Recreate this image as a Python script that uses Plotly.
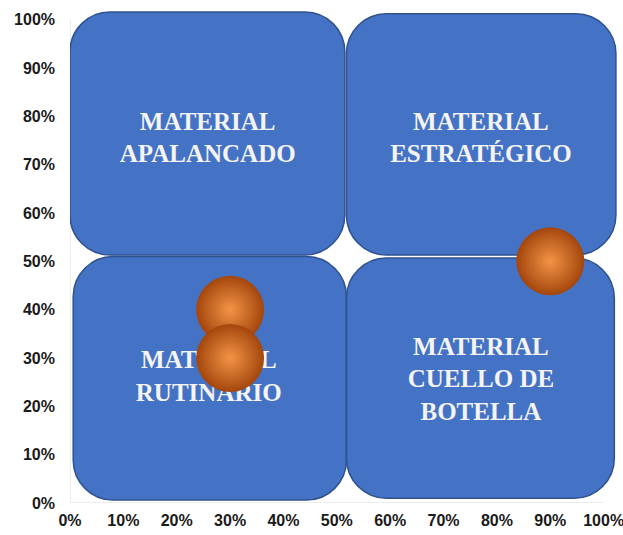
import plotly.graph_objects as go

# Quadrant boxes (data coordinates, fraction of axis)
quad_labels = ["MATERIAL<br>APALANCADO", "MATERIAL<br>ESTRATÉGICO",
               "MATERIAL<br>RUTINARIO", "MATERIAL<br>CUELLO DE<br>BOTELLA"]
quad_x0 = [0.000, 0.518, 0.006, 0.518]
quad_x1 = [0.515, 1.023, 0.518, 1.020]
quad_y0 = [0.513, 0.513, 0.006, 0.010]
quad_y1 = [1.016, 1.012, 0.510, 0.507]
label_x = [0.258, 0.770, 0.260, 0.770]
label_y = [0.752, 0.752, 0.258, 0.252]

# Points (spheres)
pt_x = [0.30, 0.30, 0.90]
pt_y = [0.40, 0.30, 0.50]

x_ticks = [i / 10 for i in range(11)]
x_tick_text = [f"{i*10}%" for i in range(11)]
y_ticks = [i / 10 for i in range(11)]
y_tick_text = [f"{i*10}%" for i in range(11)]

W, H = 623, 535
ML, MR, MT, MB = 70, 6, 10, 32
XR = [0, 1.025]
YR = [0, 1.02]
px_x = (W - ML - MR) / (XR[1] - XR[0])
px_y = (H - MT - MB) / (YR[1] - YR[0])
corner_px = 40
rx = corner_px / px_x
ry = corner_px / px_y


def rounded_rect(x0, x1, y0, y1):
    k = 0.5523
    return (f"M {x0+rx},{y1} L {x1-rx},{y1} "
            f"C {x1-rx+k*rx},{y1} {x1},{y1-ry+k*ry} {x1},{y1-ry} "
            f"L {x1},{y0+ry} "
            f"C {x1},{y0+ry-k*ry} {x1-rx+k*rx},{y0} {x1-rx},{y0} "
            f"L {x0+rx},{y0} "
            f"C {x0+rx-k*rx},{y0} {x0},{y0+ry-k*ry} {x0},{y0+ry} "
            f"L {x0},{y1-ry} "
            f"C {x0},{y1-ry+k*ry} {x0+rx-k*rx},{y1} {x0+rx},{y1} Z")


shapes = []
# axis lines
shapes.append(dict(type="line", xref="x", yref="y", x0=0, x1=1, y0=0, y1=0,
                   line=dict(color="#D9D9D9", width=1), layer="below"))
shapes.append(dict(type="line", xref="x", yref="y", x0=0, x1=0, y0=0, y1=1,
                   line=dict(color="#D9D9D9", width=1), layer="below"))
for x0, x1, y0, y1 in zip(quad_x0, quad_x1, quad_y0, quad_y1):
    shapes.append(dict(type="path", xref="x", yref="y", path=rounded_rect(x0, x1, y0, y1),
                       fillcolor="#4472C4", line=dict(color="#2F528F", width=1.5),
                       layer="below"))

fig = go.Figure()
fig.add_trace(go.Scatter(
    x=label_x, y=label_y, mode="text", text=quad_labels,
    textfont=dict(family="Liberation Serif", size=25, color="#F4F4F4", weight="bold"),
    hoverinfo="skip", showlegend=False, cliponaxis=False))
fig.add_trace(go.Scatter(
    x=pt_x, y=pt_y, mode="markers",
    marker=dict(size=68, color="#A4460C", line=dict(width=0),
                gradient=dict(type="radial", color="#F29446")),
    showlegend=False, cliponaxis=False))

tick_font = dict(family="Liberation Sans", size=16, color="#1A1A1A", weight="bold")
fig.update_layout(
    width=W, height=H,
    margin=dict(l=ML, r=MR, t=MT, b=MB, autoexpand=False),
    paper_bgcolor="white", plot_bgcolor="white",
    shapes=shapes,
    xaxis=dict(range=XR, tickvals=x_ticks, ticktext=x_tick_text, showgrid=False,
               zeroline=False, showline=False, ticks="", tickfont=tick_font,
               ticklabelstandoff=6, fixedrange=True, automargin=False,
               ticklabeloverflow="allow"),
    yaxis=dict(range=YR, tickvals=y_ticks, ticktext=y_tick_text, showgrid=False,
               zeroline=False, showline=False, ticks="", tickfont=tick_font,
               ticklabelstandoff=14, fixedrange=True, automargin=False,
               ticklabeloverflow="allow"),
)
fig.write_html("out.html")
